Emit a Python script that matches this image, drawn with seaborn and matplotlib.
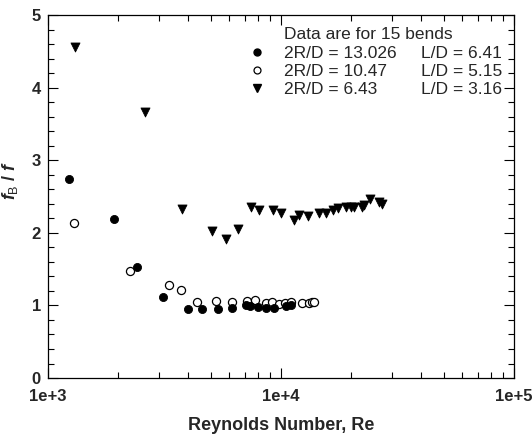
import numpy as np
import pandas as pd
import matplotlib
matplotlib.use("Agg")
import matplotlib.pyplot as plt
import seaborn as sns
from matplotlib.lines import Line2D
from matplotlib.ticker import LogLocator, MultipleLocator, FuncFormatter, NullFormatter

# ---------------------------------------------------------------
# DATA
# ---------------------------------------------------------------
# 2R/D = 13.026, L/D = 6.41 (filled circles)
re_a = [1234, 1927, 2415, 3118, 4000, 4590, 5346, 6180, 7080, 7380,
        8000, 8630, 9310, 10500, 11000]
fb_a = [2.74, 2.19, 1.53, 1.12, 0.95, 0.95, 0.95, 0.97, 1.00, 0.99,
        0.98, 0.97, 0.96, 0.99, 1.00]

# 2R/D = 10.47, L/D = 5.15 (open circles)
re_b = [1293, 2249, 3320, 3725, 4345, 5276, 6140, 7160, 7730, 8630,
        9120, 9840, 10400, 11100, 12270, 13240, 13610, 13870]
fb_b = [2.13, 1.48, 1.28, 1.21, 1.05, 1.06, 1.05, 1.06, 1.08, 1.04,
        1.05, 1.02, 1.04, 1.05, 1.04, 1.04, 1.05, 1.05]

# 2R/D = 6.43, L/D = 3.16 (filled triangles)
re_c = [1306, 2606, 3750, 5050, 5800, 6560, 7430, 8070, 9270, 10000,
        11400, 11940, 13090, 14600, 15590, 16670, 17510, 18970, 19900,
        20560, 22180, 22800, 24110, 26360, 27230]
fb_c = [4.56, 3.66, 2.33, 2.02, 1.92, 2.05, 2.35, 2.31, 2.31, 2.28,
        2.18, 2.25, 2.23, 2.27, 2.28, 2.31, 2.34, 2.36, 2.36,
        2.36, 2.36, 2.39, 2.47, 2.42, 2.40]

legend_title = "Data are for 15 bends"
ratio_labels = ["2R/D = 13.026", "2R/D = 10.47", "2R/D = 6.43"]
ld_labels = ["L/D = 6.41", "L/D = 5.15", "L/D = 3.16"]

# ---------------------------------------------------------------
# STYLE
# ---------------------------------------------------------------
sns.set_style("ticks")
plt.rcParams["font.family"] = ["Liberation Sans", "DejaVu Sans"]
plt.rcParams["mathtext.fontset"] = "custom"
plt.rcParams["mathtext.it"] = "Liberation Sans:italic:bold"
plt.rcParams["mathtext.rm"] = "Liberation Sans"

fig = plt.figure(figsize=(5.32, 4.34), dpi=100)
ax = fig.add_axes([0.090, 0.129, 0.876, 0.836])

df_a = pd.DataFrame({"Re": re_a, "fb": fb_a})
df_b = pd.DataFrame({"Re": re_b, "fb": fb_b})
df_c = pd.DataFrame({"Re": re_c, "fb": fb_c})

sns.scatterplot(data=df_a, x="Re", y="fb", ax=ax, marker="o", s=34,
                color="black", edgecolor="black", linewidth=0.6, legend=False, zorder=3)
sns.scatterplot(data=df_b, x="Re", y="fb", ax=ax, marker="o", s=34,
                color="white", edgecolor="black", linewidth=0.9, legend=False, zorder=2)
sns.scatterplot(data=df_c, x="Re", y="fb", ax=ax, marker="v", s=42,
                color="black", edgecolor="black", linewidth=0.6, legend=False, zorder=3)

# ---------------------------------------------------------------
# AXES
# ---------------------------------------------------------------
ax.set_xscale("log")
ax.set_xlim(1e3, 1e5)
ax.set_ylim(0, 5)
ax.xaxis.set_major_locator(LogLocator(base=10, numticks=5))
ax.xaxis.set_minor_locator(LogLocator(base=10, subs=np.arange(2, 10), numticks=20))
ax.xaxis.set_major_formatter(FuncFormatter(lambda v, p: f"1e+{int(round(np.log10(v)))}"))
ax.xaxis.set_minor_formatter(NullFormatter())
ax.yaxis.set_major_locator(MultipleLocator(1))
ax.yaxis.set_minor_locator(MultipleLocator(0.2))

ax.tick_params(which="both", direction="in", top=True, right=True, color="black", width=0.8)
ax.tick_params(which="major", length=7, labelsize=12)
ax.tick_params(axis="x", which="major", pad=8)
ax.tick_params(axis="y", which="major", pad=5)
ax.tick_params(which="minor", length=4)
for lab in ax.get_xticklabels() + ax.get_yticklabels():
    lab.set_fontweight("bold")
for sp in ax.spines.values():
    sp.set_color("black")
    sp.set_linewidth(0.9)

ax.set_xlabel("Reynolds Number, Re", fontsize=13, fontweight="bold", labelpad=9)
ax.set_ylabel(r"$f_{\mathrm{B}}$ / $f$", fontsize=13, fontweight="bold")
ax.yaxis.set_label_coords(-0.06, 0.545)

# ---------------------------------------------------------------
# LEGEND
# ---------------------------------------------------------------
handles = [
    Line2D([], [], linestyle="none"),
    Line2D([], [], linestyle="none", marker="o", markersize=5, color="black"),
    Line2D([], [], linestyle="none", marker="o", markersize=5,
           markerfacecolor="white", markeredgecolor="black", markeredgewidth=0.9),
    Line2D([], [], linestyle="none", marker="v", markersize=6, color="black"),
]
labels = [legend_title]
for i, (r, l) in enumerate(zip(ratio_labels, ld_labels)):
    labels.append(r + " " * (5 + 2 * i) + l)

ax.legend(handles, labels, loc="upper left", bbox_to_anchor=(0.430, 0.967),
          frameon=False, borderpad=0, borderaxespad=0, handlelength=1.0,
          handletextpad=1.06, labelspacing=0.18, fontsize=12.5)

fig.savefig("out.png", dpi=100)
